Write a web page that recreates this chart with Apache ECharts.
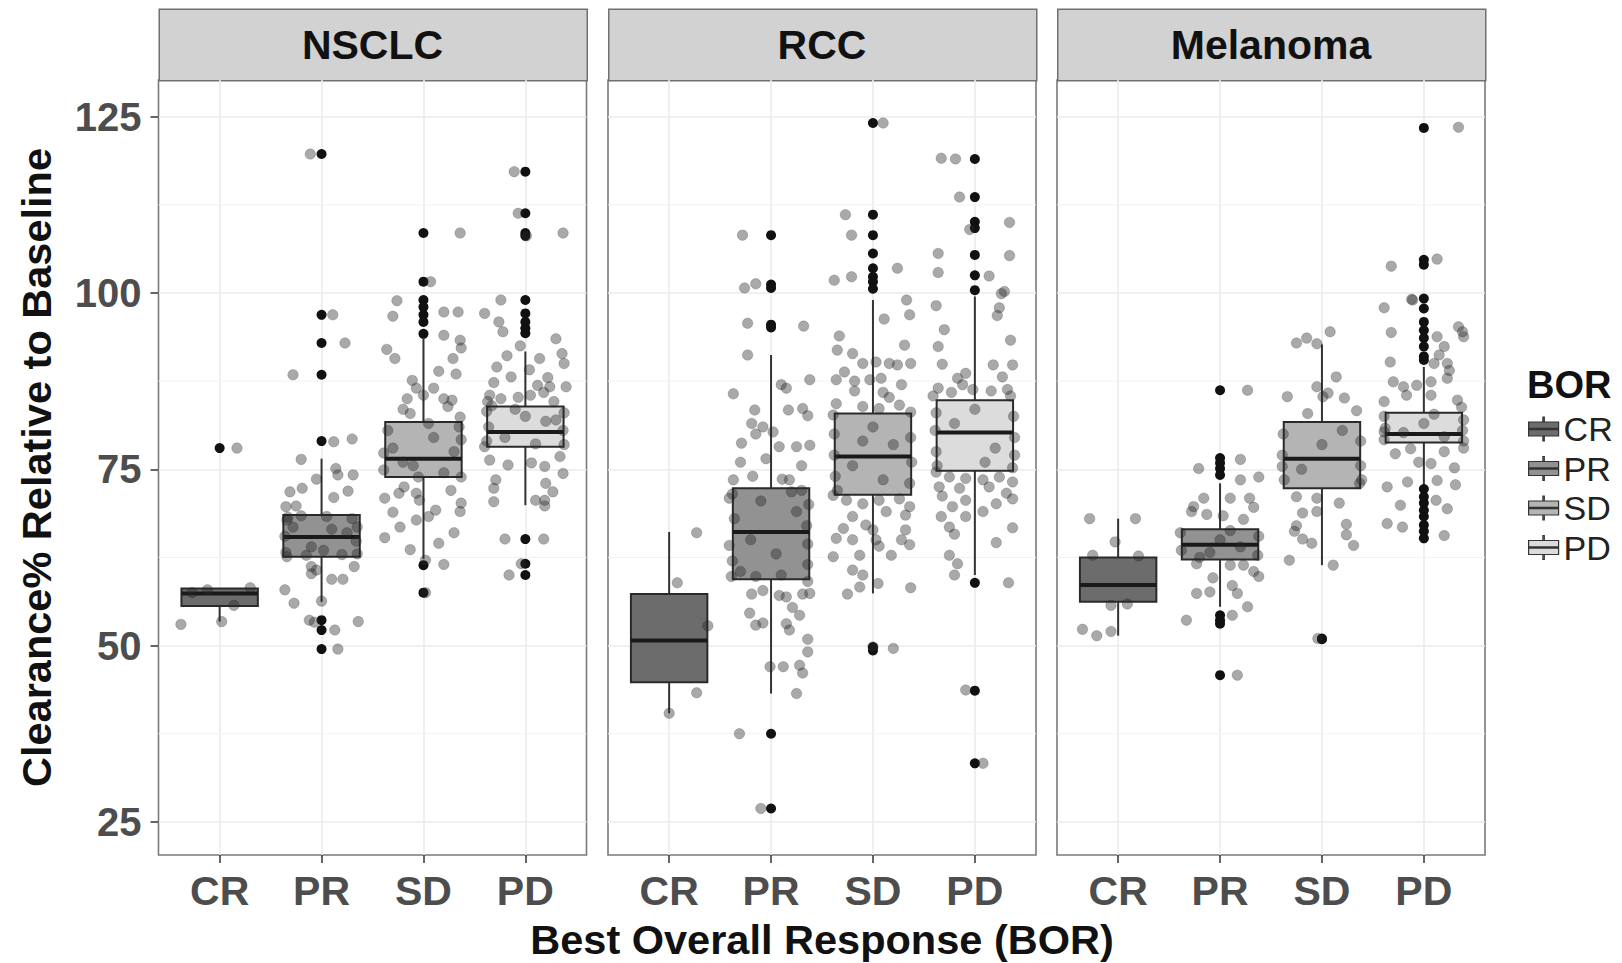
<!DOCTYPE html>
<html>
<head>
<meta charset="utf-8">
<script src="https://cdn.jsdelivr.net/npm/echarts@6/dist/echarts.min.js"></script>
<style>html,body{margin:0;padding:0;background:#fff}#chart{width:1622px;height:963px}</style>
</head>
<body>
<div id="chart"></div>
<script>
// ---------- data ----------
const panelNames = ['NSCLC', 'RCC', 'Melanoma'];
const categories = ['CR', 'PR', 'SD', 'PD'];
const yTicks = [25, 50, 75, 100, 125];
const yMinorTicks = [37.5, 62.5, 87.5, 112.5];

// box stats per category: [lower whisker, Q1, median, Q3, upper whisker]
const nsclcBoxes = [[53.4, 55.6, 57.4, 58.1, 58.1], [56.2, 62.6, 65.4, 68.5, 76.5], [62.3, 73.9, 76.5, 81.7, 93.5], [69.9, 78.2, 80.3, 83.9, 91.7]];
const rccBoxes = [[40.4, 44.8, 50.7, 57.3, 66.1], [43.2, 59.4, 66.1, 72.3, 91.2], [57.4, 71.4, 76.8, 82.9, 99.0], [60.0, 74.8, 80.2, 84.8, 99.5]];
const melanomaBoxes = [[51.4, 56.2, 58.6, 62.5, 68.0], [55.5, 62.2, 64.3, 66.5, 73.0], [61.4, 72.3, 76.5, 81.7, 92.7], [72.8, 78.8, 80.0, 83.0, 89.5]];

// outliers per category
const nsclcOutliers = [[78.0], [119.7, 96.9, 92.9, 88.4, 79.0, 53.6, 52.2, 49.5], [108.5, 101.6, 99.0, 98.0, 96.9, 95.9, 94.2, 61.4, 57.5], [117.2, 111.3, 108.5, 108.1, 99.0, 97.1, 95.9, 95.0, 94.3, 65.1, 61.6, 60.0]];
const rccOutliers = [[], [108.2, 101.2, 100.7, 95.5, 95.1, 37.5, 26.9], [124.1, 111.1, 108.2, 105.6, 103.5, 102.3, 101.6, 100.6, 49.8, 49.3], [119.0, 113.6, 110.1, 109.2, 105.4, 102.5, 100.4, 58.9, 43.6, 33.3]];
const melanomaOutliers = [[], [86.2, 76.6, 75.9, 75.1, 74.2, 54.3, 53.6, 53.1, 45.8], [51.0, 50.9], [123.4, 104.7, 104.0, 99.2, 97.8, 95.9, 94.7, 93.6, 92.4, 91.0, 90.5, 72.2, 71.1, 70.2, 69.2, 68.3, 67.1, 66.2, 65.2]];

// jittered observations per category: [horizontal jitter (category units), value]
const nsclcJitter = [
  [[0.17,78.0],[-0.38,53.0],[0.02,53.4],[-0.12,57.9],[0.3,58.2],[0.14,55.7],[-0.27,57.5]],
  [[-0.11,119.7],[0.11,96.9],[0.23,92.9],[-0.28,88.4],[0.12,78.9],[0.3,79.3],[-0.2,76.4],[0.14,75.1],[0.16,74.2],[0.31,74.2],[-0.05,73.6],[-0.19,72.3],[-0.31,71.8],[0.26,71.9],[0.12,71.0],[-0.35,69.7],[-0.25,69.8],[-0.33,68.2],[-0.2,68.4],[0.05,68.3],[0.3,68.0],[-0.28,66.8],[0.1,66.5],[0.25,66.0],[-0.36,65.5],[0.34,64.8],[-0.1,64.0],[0.02,63.5],[-0.35,63.2],[0.35,63.0],[-0.15,62.8],[0.2,62.9],[-0.34,67.8],[0.35,66.8],[-0.34,62.6],[-0.1,61.2],[-0.05,60.7],[-0.1,60.2],[0.32,61.2],[0.1,59.4],[0.21,59.4],[-0.36,57.9],[-0.27,56.0],[0.0,56.3],[-0.12,53.6],[-0.07,53.3],[0.13,52.2],[0.36,53.4],[0.16,49.5]],
  [[0.36,108.5],[0.07,101.6],[-0.26,98.9],[-0.3,96.7],[0.2,97.3],[0.34,97.3],[0.2,94.0],[0.36,93.3],[0.37,92.2],[0.29,90.7],[-0.28,90.7],[-0.11,87.6],[-0.07,86.5],[0.1,86.5],[0.0,85.5],[-0.16,85.0],[0.2,85.0],[0.24,83.9],[-0.13,82.9],[0.36,82.4],[-0.36,92.0],[0.32,88.5],[-0.2,83.5],[0.28,84.8],[0.15,88.9],[-0.35,80.5],[0.35,81.0],[-0.3,78.0],[0.3,77.5],[0.1,79.5],[-0.1,75.5],[0.2,74.5],[-0.2,76.0],[0.05,81.5],[-0.05,73.9],[-0.39,77.3],[0.37,79.2],[-0.39,74.9],[0.37,73.9],[-0.19,72.5],[-0.24,71.6],[-0.38,70.9],[-0.07,71.6],[-0.04,70.6],[0.27,72.0],[0.37,70.2],[0.36,69.0],[0.12,69.2],[0.05,68.3],[-0.07,67.8],[-0.23,66.8],[-0.38,65.3],[-0.13,63.6],[0.02,62.1],[0.2,61.5],[0.3,66.0],[0.15,64.5],[-0.3,68.9],[0.02,57.5]],
  [[-0.11,117.2],[-0.07,111.3],[0.37,108.5],[0.01,108.1],[-0.24,99.0],[-0.4,97.1],[-0.26,95.9],[-0.22,94.5],[-0.18,91.1],[0.14,90.7],[0.36,91.4],[0.38,90.0],[0.04,89.1],[-0.14,88.1],[0.4,86.7],[0.24,86.7],[0.12,86.9],[-0.35,85.5],[-0.31,87.3],[-0.24,85.0],[-0.07,85.2],[0.05,85.5],[0.18,85.9],[0.28,84.6],[-0.37,84.6],[-0.33,84.0],[0.3,93.5],[-0.05,92.5],[0.22,88.0],[-0.28,89.5],[-0.38,83.2],[0.38,83.0],[-0.36,81.0],[0.37,80.5],[-0.38,79.0],[0.38,78.5],[0.0,82.5],[-0.2,79.5],[0.2,81.8],[0.1,78.6],[-0.1,83.5],[0.3,82.0],[-0.4,78.2],[-0.17,75.6],[-0.35,76.3],[0.06,75.9],[0.19,75.4],[0.37,74.4],[0.34,76.8],[-0.29,73.5],[-0.31,72.3],[0.2,73.0],[0.27,71.8],[0.19,70.6],[0.1,70.6],[-0.31,70.4],[0.19,69.8],[-0.2,65.1],[0.18,65.1],[-0.04,61.6],[-0.16,60.0]]
];
const rccJitter = [
  [[0.27,66.0],[0.08,58.9],[0.38,52.8],[0.27,43.3],[0.0,40.4]],
  [[-0.28,108.2],[-0.26,100.7],[-0.15,101.3],[-0.23,95.7],[0.32,95.3],[-0.23,91.2],[-0.37,85.7],[0.38,87.7],[0.1,87.0],[0.15,86.5],[-0.16,83.4],[0.17,83.4],[0.31,83.6],[0.36,82.6],[-0.19,81.5],[-0.08,81.0],[0.02,80.3],[-0.15,80.0],[-0.29,78.7],[0.08,78.2],[0.25,78.2],[0.38,78.4],[-0.05,76.5],[0.3,75.5],[-0.3,76.0],[-0.37,73.5],[-0.18,74.0],[0.11,73.6],[0.18,73.5],[-0.41,70.9],[-0.38,71.5],[0.37,70.0],[-0.36,68.0],[0.35,67.0],[-0.38,62.0],[0.36,61.5],[-0.3,60.5],[0.1,60.0],[-0.1,70.5],[0.2,71.8],[-0.2,65.0],[0.05,63.0],[0.25,69.0],[-0.15,59.8],[0.3,72.0],[-0.41,64.2],[0.36,64.4],[-0.39,59.8],[0.36,59.1],[-0.19,57.3],[-0.08,57.8],[0.08,57.1],[0.15,56.9],[0.31,57.3],[0.38,57.4],[-0.21,54.6],[0.21,55.4],[0.28,54.3],[-0.15,52.9],[-0.08,53.2],[0.15,53.1],[0.18,52.2],[0.36,50.9],[0.36,49.1],[-0.01,47.0],[0.12,47.0],[0.28,47.2],[0.31,46.1],[0.25,43.2],[-0.31,37.5],[-0.1,26.9]],
  [[0.1,124.1],[-0.27,111.1],[-0.21,108.2],[0.24,103.5],[-0.38,101.8],[-0.21,102.3],[0.33,99.0],[0.36,96.9],[0.11,96.3],[-0.33,93.9],[-0.35,91.9],[-0.2,91.4],[0.31,92.6],[-0.28,88.8],[-0.1,90.0],[0.03,90.2],[0.16,90.0],[0.24,89.8],[0.37,90.0],[-0.36,87.7],[-0.18,87.5],[-0.03,87.7],[0.08,87.9],[0.28,87.0],[-0.18,86.1],[0.1,85.9],[0.16,85.2],[-0.36,84.3],[-0.1,83.9],[0.06,83.6],[0.26,84.1],[-0.39,82.7],[0.37,83.1],[-0.38,80.0],[0.37,79.5],[-0.38,77.0],[0.38,76.0],[-0.37,74.0],[0.36,73.0],[-0.35,72.0],[0.0,81.0],[0.2,78.5],[-0.2,75.5],[0.1,73.5],[-0.1,79.0],[-0.39,71.3],[-0.26,70.6],[-0.1,70.1],[0.06,70.6],[0.26,70.8],[0.36,69.7],[0.13,69.0],[0.32,68.5],[-0.2,68.3],[-0.29,66.6],[-0.07,67.1],[0.0,66.4],[0.32,66.4],[-0.36,65.2],[-0.2,65.0],[0.03,65.0],[0.28,65.0],[0.36,64.3],[0.06,64.1],[-0.39,62.6],[-0.13,62.8],[0.18,62.8],[-0.2,60.7],[-0.1,60.0],[-0.13,58.3],[0.05,58.8],[-0.25,57.3],[0.37,58.2],[0.2,49.6],[0.0,49.8]],
  [[-0.33,119.1],[-0.19,119.0],[-0.15,113.6],[0.34,110.0],[-0.05,109.0],[-0.36,105.6],[0.34,105.3],[-0.36,102.9],[0.14,102.4],[0.29,100.2],[0.26,99.9],[-0.38,98.2],[0.24,97.9],[0.22,96.8],[-0.3,94.8],[0.35,93.3],[-0.36,92.4],[-0.32,89.9],[0.18,89.8],[0.37,89.8],[-0.09,88.6],[-0.17,87.9],[0.27,88.1],[-0.36,86.5],[-0.23,85.9],[-0.12,87.0],[-0.02,86.3],[0.16,86.1],[0.32,86.3],[0.35,85.4],[-0.41,85.4],[-0.38,83.0],[0.38,82.5],[-0.39,80.5],[0.39,79.5],[-0.38,77.5],[0.39,77.0],[-0.37,75.5],[0.37,75.2],[0.0,83.5],[0.2,78.0],[-0.2,81.5],[0.1,76.0],[-0.38,74.6],[-0.25,73.9],[-0.09,73.7],[0.08,73.5],[0.24,73.9],[0.37,73.2],[-0.35,72.5],[-0.15,72.3],[0.14,72.5],[0.31,71.6],[-0.32,71.2],[-0.09,70.6],[0.21,70.1],[0.37,70.8],[-0.22,69.7],[0.08,69.0],[-0.33,68.3],[-0.09,68.3],[-0.25,66.8],[0.37,66.7],[0.21,64.6],[-0.2,65.8],[-0.25,62.8],[-0.17,61.6],[-0.2,60.0],[0.33,58.9],[-0.09,43.7],[0.08,33.3]]
];
const melanomaJitter = [
  [[-0.28,68.0],[0.17,68.0],[-0.03,64.7],[-0.35,52.3],[-0.21,51.4],[-0.07,52.0],[-0.25,62.8],[0.2,62.7],[-0.07,55.7],[0.09,55.9]],
  [[0.27,86.2],[-0.21,75.1],[0.2,76.4],[0.2,73.5],[0.38,73.9],[-0.16,70.9],[-0.26,69.7],[0.1,70.9],[0.29,70.9],[-0.13,68.6],[0.03,68.4],[0.23,67.9],[0.33,69.6],[-0.28,69.0],[-0.39,66.0],[0.38,65.5],[-0.38,63.5],[0.37,62.8],[0.0,65.0],[-0.2,62.5],[0.2,64.0],[0.1,66.3],[-0.1,63.2],[-0.23,61.6],[0.1,61.4],[0.23,61.4],[0.33,60.5],[0.38,59.8],[-0.07,59.6],[-0.23,57.4],[-0.1,57.6],[0.12,58.5],[0.17,57.4],[0.27,55.5],[-0.33,53.6],[0.12,54.3],[0.17,45.8]],
  [[-0.25,92.9],[-0.15,93.6],[-0.05,92.8],[0.08,94.5],[0.14,88.1],[-0.05,86.7],[0.01,85.3],[0.06,85.8],[-0.34,85.3],[0.22,85.1],[0.34,83.3],[-0.14,82.9],[-0.38,80.0],[0.38,79.0],[-0.39,77.0],[0.38,75.5],[-0.37,73.5],[0.37,73.0],[0.0,78.5],[-0.2,75.0],[0.2,80.5],[-0.39,75.4],[0.39,73.5],[-0.25,71.1],[-0.05,70.9],[0.17,70.2],[-0.19,68.8],[-0.05,69.0],[0.24,67.2],[-0.25,67.0],[-0.27,66.2],[0.24,65.7],[-0.19,65.1],[-0.1,64.5],[0.31,64.2],[-0.32,62.1],[0.11,61.4],[-0.04,51.0]],
  [[0.34,123.5],[0.13,104.8],[-0.32,103.8],[-0.12,99.1],[-0.39,97.9],[-0.32,94.4],[0.34,95.2],[0.39,93.8],[0.13,93.8],[0.2,92.4],[-0.33,90.2],[0.15,91.2],[0.23,90.0],[0.1,90.0],[-0.11,99.0],[0.38,94.5],[0.25,89.0],[-0.3,87.4],[-0.2,86.7],[-0.07,86.9],[0.07,87.4],[0.23,87.9],[-0.17,85.5],[0.07,85.5],[-0.39,84.6],[0.33,84.8],[0.37,83.8],[-0.39,82.5],[0.39,82.0],[-0.38,80.8],[0.38,80.5],[-0.39,79.2],[0.39,79.0],[0.0,81.5],[-0.2,80.2],[0.2,79.6],[0.1,82.8],[-0.39,80.3],[0.39,78.0],[-0.28,77.2],[-0.13,77.9],[0.2,77.5],[-0.05,76.0],[0.07,75.8],[0.3,75.2],[-0.36,72.5],[-0.16,73.2],[0.13,73.4],[0.31,72.8],[-0.23,69.9],[0.12,70.6],[0.23,69.4],[-0.36,67.3],[-0.21,66.8],[0.2,65.6]]
];

// ---------- layout & styles ----------
const boxStats = [nsclcBoxes, rccBoxes, melanomaBoxes];
const outliers = [nsclcOutliers, rccOutliers, melanomaOutliers];
const jitter = [nsclcJitter, rccJitter, melanomaJitter];
const boxColors = ['#6c6c6c', '#929292', '#b4b4b4', '#dcdcdc'];
const FONT = '"Liberation Sans", Arial, Helvetica, sans-serif';
const panelLefts = [158.5, 608, 1057];
const panelTop = 80, panelHeight = 775, panelWidth = 428;
const stripTop = 8.5, stripHeight = 71.5;
const xMin = 0.4, xMax = 4.6, yMin = 20.3, yMax = 130.2;
const catPos = categories.map((c, i) => i + 1);
const boxHalf = 0.375;

const chart = echarts.init(document.getElementById('chart'), null, { renderer: 'svg' });

const grids = [], xAxes = [], yAxes = [], series = [], graphics = [];
panelLefts.forEach((left, p) => {
  grids.push({ left: left, top: panelTop, width: panelWidth, height: panelHeight, show: true,
    backgroundColor: '#ffffff', borderColor: '#7a7a7a', borderWidth: 1.6 });
  xAxes.push({
    type: 'value', gridIndex: p, min: xMin, max: xMax,
    axisLine: { show: false },
    axisTick: { show: true, customValues: catPos, length: 8, lineStyle: { color: '#333', width: 1.5 } },
    axisLabel: { customValues: catPos, formatter: v => categories[Math.round(v) - 1], margin: 15,
      fontSize: 41, fontWeight: 'bold', color: '#4d4d4d', fontFamily: FONT },
    splitLine: { show: true, lineStyle: { color: '#ebebeb', width: 1.6 } }
  });
  yAxes.push({
    type: 'value', gridIndex: p, min: yMin, max: yMax,
    axisLine: { show: false },
    axisTick: { show: p === 0, customValues: yTicks, length: 8, lineStyle: { color: '#333', width: 1.5 } },
    axisLabel: { show: p === 0, customValues: yTicks, margin: 17, fontSize: 40, fontWeight: 'bold',
      color: '#4d4d4d', fontFamily: FONT },
    splitLine: { show: true, lineStyle: { color: '#ebebeb', width: 1.6 } },
    name: p === 0 ? 'Clearance% Relative to Baseline' : '', nameLocation: 'middle', nameGap: 101,
    nameTextStyle: { fontSize: 41.5, fontWeight: 'bold', color: '#111', fontFamily: FONT }
  });
  // minor horizontal grid lines
  series.push({
    type: 'custom', xAxisIndex: p, yAxisIndex: p, silent: true, z: 1,
    data: yMinorTicks.map(v => [2.5, v]),
    renderItem: (params, api) => {
      const a = api.coord([xMin, api.value(1)]);
      const b = api.coord([xMax, api.value(1)]);
      return { type: 'line', shape: { x1: a[0], y1: a[1], x2: b[0], y2: b[1] },
        style: { stroke: '#f2f2f2', lineWidth: 1 } };
    }
  });
  // boxes
  categories.forEach((cat, c) => {
    series.push({
      type: 'custom', name: cat, xAxisIndex: p, yAxisIndex: p, z: 2,
      itemStyle: { color: boxColors[c] },
      data: [[catPos[c]].concat(boxStats[p][c])],
      renderItem: (params, api) => {
        const x = api.value(0);
        const lo = api.coord([x, api.value(1)]);
        const q1 = api.coord([x - boxHalf, api.value(2)]);
        const med = api.coord([x - boxHalf, api.value(3)]);
        const medR = api.coord([x + boxHalf, api.value(3)]);
        const q3 = api.coord([x + boxHalf, api.value(4)]);
        const hi = api.coord([x, api.value(5)]);
        const ws = { stroke: '#333', lineWidth: 2 };
        return { type: 'group', children: [
          { type: 'line', shape: { x1: hi[0], y1: hi[1], x2: hi[0], y2: q3[1] }, style: ws },
          { type: 'line', shape: { x1: lo[0], y1: q1[1], x2: lo[0], y2: lo[1] }, style: ws },
          { type: 'rect', shape: { x: q1[0], y: q3[1], width: q3[0] - q1[0], height: q1[1] - q3[1] },
            style: { fill: api.visual('color'), stroke: '#2a2a2a', lineWidth: 2 } },
          { type: 'line', shape: { x1: med[0], y1: med[1], x2: medR[0], y2: med[1] },
            style: { stroke: '#1a1a1a', lineWidth: 4 } }
        ] };
      }
    });
  });
  // outliers
  const od = [];
  outliers[p].forEach((vals, c) => vals.forEach(v => od.push([catPos[c], v])));
  series.push({ type: 'scatter', name: 'outlier', xAxisIndex: p, yAxisIndex: p, z: 3, silent: true,
    symbolSize: 10, itemStyle: { color: '#111', opacity: 1 }, data: od });
  // jittered points
  const jd = [];
  jitter[p].forEach((pts, c) => pts.forEach(pt => jd.push([catPos[c] + pt[0], pt[1]])));
  series.push({ type: 'scatter', name: 'obs', xAxisIndex: p, yAxisIndex: p, z: 4, silent: true,
    symbolSize: 10.5,
    itemStyle: { color: 'rgba(40,40,40,0.5)', borderColor: 'rgba(20,20,20,0.3)', borderWidth: 0.8 },
    data: jd });
  // facet strip
  graphics.push({ type: 'rect', left: left, top: stripTop, silent: true,
    shape: { x: 0, y: 0, width: panelWidth, height: stripHeight },
    style: { fill: '#d2d2d2', stroke: '#707070', lineWidth: 1.5 } });
  graphics.push({ type: 'text', x: left + panelWidth / 2, y: stripTop + stripHeight / 2 + 1, silent: true,
    style: { text: panelNames[p], fontSize: 41, fontWeight: 'bold', fontFamily: FONT, fill: '#111',
      align: 'center', verticalAlign: 'middle' } });
});

chart.setOption({
  animation: false,
  backgroundColor: '#ffffff',
  title: [
    { text: 'BOR', left: 1527, top: 366, padding: 0,
      textStyle: { fontSize: 38, fontWeight: 'bold', color: '#111', fontFamily: FONT } },
    { text: 'Best Overall Response (BOR)', left: 822, top: 918, textAlign: 'center', padding: 0,
      textStyle: { fontSize: 41.5, fontWeight: 'bold', color: '#111', fontFamily: FONT } }
  ],
  legend: {
    orient: 'vertical', left: 1528, top: 412, padding: 0, itemWidth: 30, itemHeight: 24, itemGap: 5.5,
    icon: 'path://M0,5L30,5L30,11.4L0,11.4Z M0,12.6L30,12.6L30,19L0,19Z M14.3,0L15.7,0L15.7,5L14.3,5Z M14.3,19L15.7,19L15.7,24L14.3,24Z',
    itemStyle: { borderColor: '#333', borderWidth: 1.2 },
    textStyle: { fontSize: 34, color: '#222', fontFamily: FONT, lineHeight: 24 },
    data: categories
  },
  grid: grids, xAxis: xAxes, yAxis: yAxes, series: series, graphic: graphics
});
</script>
</body>
</html>
